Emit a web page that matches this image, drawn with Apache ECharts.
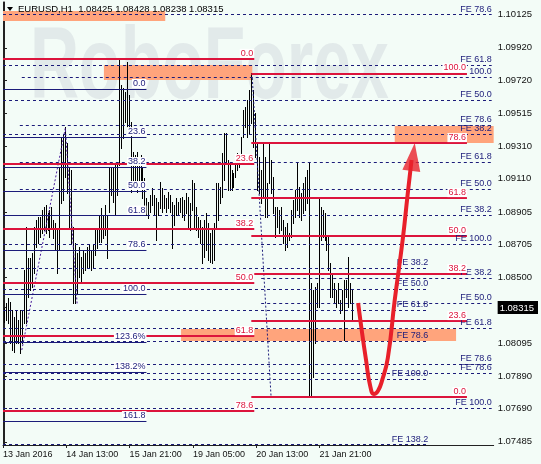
<!DOCTYPE html>
<html><head><meta charset="utf-8">
<script src="https://cdn.jsdelivr.net/npm/echarts@6/dist/echarts.min.js"></script>
<style>html,body{margin:0;padding:0;background:#f3fcf7}#c{width:541px;height:464px}</style>
</head><body><div id="c"></div>
<script>
// ---- data (H1 bars, index 0 = first bar) ----
const header = 'EURUSD,H1  1.08425 1.08428 1.08238 1.08315';
const highs = [1.08312,1.08342,1.08373,1.08349,1.08299,1.08256,1.08299,1.08237,1.08299,1.08299,
1.08546,1.08812,1.08621,1.08621,1.08651,1.08812,1.08855,1.08874,1.08874,1.08917,
1.08936,1.08948,1.08899,1.08917,1.08936,1.08855,1.08837,1.08794,1.09183,1.09368,
1.09381,1.09430,1.09331,1.09177,1.09164,1.08812,1.08713,1.08651,1.08689,1.08627,
1.08670,1.08651,1.08689,1.08701,1.08670,1.08701,1.08806,1.08806,1.08886,1.08930,
1.08886,1.08948,1.08886,1.09177,1.09177,1.09177,1.09195,1.09214,1.09850,1.09690,
1.09671,1.09646,1.09832,1.09628,1.09461,1.09276,1.09257,1.09276,1.09214,1.09257,
1.09177,1.09115,1.08991,1.08967,1.09010,1.09053,1.09010,1.08991,1.08967,1.09090,
1.09053,1.09010,1.08991,1.09028,1.09010,1.08967,1.08948,1.08991,1.08967,1.08991,
1.08998,1.08979,1.09022,1.08998,1.08960,1.09103,1.09084,1.08936,1.08874,1.08855,
1.08812,1.08855,1.08899,1.08837,1.08775,1.08794,1.08837,1.09084,1.09084,1.09059,
1.09269,1.09393,1.09393,1.09226,1.09208,1.09164,1.09146,1.09226,1.09269,1.09226,
1.09368,1.09535,1.09554,1.09597,1.09659,1.09764,1.09659,1.09517,1.09331,1.09245,
1.09164,1.09331,1.09245,1.09084,1.09331,1.09226,1.09121,1.08936,1.08936,1.08917,
1.08936,1.08855,1.08812,1.08837,1.08775,1.08917,1.08979,1.09041,1.09208,1.09059,
1.09022,1.09084,1.09121,1.09164,1.09208,1.08466,1.08423,1.08441,1.08466,1.08998,
1.08936,1.08917,1.08899,1.08750,1.08750,1.08590,1.08528,1.08466,1.08423,1.08466,
1.08361,1.08423,1.08485,1.08485,1.08627,1.08466,1.08428];
const lows = [1.08225,1.08237,1.08219,1.08095,1.08052,1.08040,1.08095,1.08095,1.08033,1.08095,
1.08219,1.08219,1.08380,1.08423,1.08441,1.08528,1.08689,1.08713,1.08750,1.08775,
1.08794,1.08775,1.08794,1.08750,1.08812,1.08744,1.08670,1.08528,1.08670,1.08960,
1.08979,1.09121,1.09022,1.08812,1.08713,1.08342,1.08342,1.08404,1.08503,1.08466,
1.08528,1.08546,1.08565,1.08565,1.08546,1.08559,1.08639,1.08682,1.08719,1.08719,
1.08744,1.08763,1.08621,1.08905,1.09010,1.08967,1.08886,1.09010,1.09195,1.09300,
1.09362,1.09461,1.09399,1.09424,1.09028,1.09053,1.09072,1.09028,1.09090,1.09053,
1.08991,1.08930,1.08886,1.08868,1.08905,1.08948,1.08886,1.08732,1.08886,1.08930,
1.08905,1.08930,1.08905,1.08930,1.08905,1.08682,1.08824,1.08886,1.08886,1.08905,
1.08874,1.08855,1.08899,1.08812,1.08794,1.08917,1.08812,1.08794,1.08750,1.08713,
1.08590,1.08627,1.08670,1.08608,1.08596,1.08590,1.08608,1.08812,1.08855,1.08960,
1.08998,1.09103,1.09208,1.09041,1.09041,1.09041,1.09059,1.09121,1.09164,1.09183,
1.09226,1.09368,1.09430,1.09368,1.09393,1.09455,1.09307,1.09245,1.09041,1.09022,
1.08960,1.08998,1.08874,1.08874,1.09084,1.09022,1.08899,1.08750,1.08812,1.08775,
1.08794,1.08713,1.08670,1.08689,1.08732,1.08750,1.08837,1.08874,1.08917,1.08874,
1.08855,1.08899,1.08917,1.08960,1.07762,1.07774,1.07885,1.08095,1.08318,1.08318,
1.08732,1.08750,1.08732,1.08670,1.08546,1.08380,1.08380,1.08342,1.08318,1.08342,
1.08281,1.08299,1.08114,1.08380,1.08318,1.08342,1.08238];

const timeLabels = ['13 Jan 2016','14 Jan 13:00','15 Jan 21:00','19 Jan 05:00','20 Jan 13:00','21 Jan 21:00'];
const timeLabelBars = [0,32,64,96,128,160];
const priceTicks = [1.10125,1.09920,1.09720,1.09515,1.09310,1.09110,1.08905,1.08705,1.08500,1.08095,1.07890,1.07690,1.07485];
const lastPrice = 1.08315;
const totalBars = 248;

// Fibonacci retracement (red, left)
const redALabels = ['0.0','23.6','38.2','50.0','61.8','78.6'];
const redALevels = [1.09852,1.09202,1.08800,1.08466,1.08138,1.07675];
const redASpan = [-0.5,126.5];
// Fibonacci retracement (red, right)
const redBLabels = ['100.0','78.6','61.8','50.0','38.2','23.6','0.0'];
const redBLevels = [1.09762,1.09331,1.08991,1.08757,1.08522,1.08231,1.07762];
const redBSpan = [125,234];
// Fibonacci retracement (navy)
const navyLabels = ['0.0','23.6','38.2','50.0','61.8','78.6','100.0','123.6%','138.2%','161.8'];
const navyLevels = [1.09665,1.09368,1.09183,1.09035,1.08883,1.08670,1.08398,1.08101,1.07916,1.07613];
const navySpan = [-0.5,72];
// Fibonacci expansion levels (dashed, right labels)
const feRLabels = ['FE 78.6','FE 61.8','100.0','FE 50.0','FE 78.6','FE 38.2','FE 61.8','FE 50.0','FE 38.2','FE 100.0','FE 38.2','FE 50.0','FE 61.8','FE 78.6','FE 78.6','FE 100.0'];
const feRLevels = [1.10125,1.09813,1.09739,1.09597,1.09443,1.09387,1.09214,1.09047,1.08886,1.08707,1.08497,1.08342,1.08188,1.07965,1.07910,1.07694];
const feRStart = [-0.5,-0.5,9,-0.5,8,-0.5,8,8,-0.5,-0.5,130,130,-0.5,-0.5,-0.5,-0.5];
const feREnd = 246.5;
// Fibonacci expansion levels (dashed, middle labels)
const feMLabels = ['FE 38.2','FE 50.0','FE 61.8','FE 78.6','FE 100.0','FE 138.2'];
const feMLevels = [1.08559,1.08429,1.08299,1.08108,1.07873,1.07467];
const feMEnd = 214.5;
// shaded zones [x0, x1, priceTop, priceBottom]
const zones = [[-0.5,81.5,1.10147,1.10085],[50.5,125.5,1.09813,1.09721],[197.5,247.5,1.09436,1.09331],[89.5,228.5,1.08182,1.08108]];
// dotted expansion trend lines
const trendA = [[9,1.08052],[31,1.09424],[37,1.08330]];
const trendB = [[125.5,1.09733],[135,1.07762]];
// forecast path
const forecast = [[179,1.08342],[181,1.08157],[183,1.07990],[185,1.07836],[187,1.07780],[189,1.07799],[191,1.07860],[194,1.08003],[197.5,1.08361],[201.5,1.08732],[204,1.09010],[206,1.09226]];
const arrowHead = [206.75,1.09245];

// ---- chart ----
const NAVY = '#1c1c7a', RED = '#dc143c', FONT = '"Liberation Sans", Arial, sans-serif';
function lvl(prices, labels, x0, x1, lineStyle, labelStyle) {
  return prices.map((p, k) => [
    {coord:[Array.isArray(x0)?x0[k]:x0, p], lineStyle: lineStyle,
     label: Object.assign({show: !!labels[k], formatter: labels[k] || ' ', position:'insideEndTop', distance:[0,1], fontSize:9, fontFamily:FONT}, labelStyle)},
    {coord:[Array.isArray(x1)?x1[k]:x1, p]}
  ]);
}
const mlBase = {silent:true, symbol:['none','none'], animation:false};

const chart = echarts.init(document.getElementById('c'), null, {renderer:'canvas'});
chart.setOption({
  animation:false,
  backgroundColor:'#f3fcf7',
  grid:{left:3, right:42, top:2, bottom:19},
  xAxis:{type:'value', min:-0.5, max:totalBars-0.5,
    splitLine:{show:false},
    axisLine:{show:true, onZero:false, lineStyle:{color:'#222', width:1}},
    axisTick:{show:true, length:3, lineStyle:{color:'#222'}, customValues: timeLabelBars.map(b=>b-0.5)},
    axisLabel:{show:true, customValues: timeLabelBars.map(b=>b-0.5), align:'left', margin:5,
      fontSize:9, fontFamily:FONT, color:'#111',
      formatter: v => { const k = timeLabelBars.findIndex(b => Math.abs(b-0.5-v) < 0.01); return k>=0 ? timeLabels[k] : ''; }}
  },
  yAxis:[{type:'value', position:'right', min:1.07465, max:1.10203, scale:true,
    splitLine:{show:false},
    axisLine:{show:true, lineStyle:{color:'#222'}},
    axisTick:{show:true, length:3, lineStyle:{color:'#222'}, customValues: priceTicks.concat([lastPrice])},
    axisLabel:{show:true, customValues: priceTicks.concat([lastPrice]), margin:4, fontSize:9.5, fontFamily:FONT, color:'#111',
      formatter: v => Math.abs(v-lastPrice)<1e-7 ? '{c|'+lastPrice.toFixed(5)+'}' : v.toFixed(5),
      rich:{c:{backgroundColor:'#000', color:'#fff', fontSize:9.5, fontFamily:FONT, padding:[2,4,1,2]}}}
  },{type:'value', position:'left', min:1.07465, max:1.10203,
    splitLine:{show:false}, axisLine:{show:true, lineStyle:{color:'#222'}}, axisTick:{show:false}, axisLabel:{show:false}}],
  graphic:[
    {type:'text', x:30, y:70, z:-10, scaleX:0.68, scaleY:1.02, silent:true,
      style:{text:'RoboForex', font:'bold 100px "Liberation Sans", Arial', fill:'#e2eaea', verticalAlign:'middle'}},
    {type:'polygon', z:100, shape:{points:[[7,7],[13,7],[10,11]]}, style:{fill:'#000'}},
    {type:'text', x:18, y:4, z:100, style:{text:header, font:'9.5px "Liberation Sans", Arial', fill:'#000'}}
  ],
  series:[
    {type:'line', data:[], z:1, silent:true,
      markArea:{silent:true, animation:false, itemStyle:{color:'#ffa47c', opacity:1},
        data: zones.map(z => [{coord:[z[0], z[2]]},{coord:[z[1], z[3]]}])}},
    {type:'custom', z:2, silent:true,
      data: highs.map((h,i)=>[i,h,lows[i]]),
      encode:{x:0, y:[1,2]},
      renderItem:(params, api) => {
        const a = api.coord([api.value(0), api.value(1)]);
        const b = api.coord([api.value(0), api.value(2)]);
        const x = Math.round(a[0]) + 0.5;
        return {type:'line', shape:{x1:x, y1:Math.round(a[1]), x2:x, y2:Math.round(b[1])+1}, style:{stroke:'#000', lineWidth:1}};
      }},
    {type:'line', data:[], z:3, markLine:Object.assign({}, mlBase, {
      data: lvl(feRLevels, feRLabels, feRStart, feREnd, {color:NAVY, width:1, type:[3,3]}, {color:NAVY})
        .concat(lvl(feMLevels, feMLabels, -0.5, feMEnd, {color:NAVY, width:1, type:[3,3]}, {color:NAVY}))})},
    {type:'line', data:trendA, z:3, symbol:'none', silent:true, lineStyle:{color:'#4a1b9c', width:1, type:[2,2]}},
    {type:'line', data:trendB, z:3, symbol:'none', silent:true, lineStyle:{color:'#1c1c7a', width:1, type:[2,2]}},
    {type:'line', data:[], z:4, markLine:Object.assign({}, mlBase, {
      data: lvl(navyLevels, navyLabels, navySpan[0], navySpan[1], {color:NAVY, width:1, type:'solid'}, {color:NAVY, backgroundColor:'#fff', padding:[0,1]})})},
    {type:'line', data:[], z:5, markLine:Object.assign({}, mlBase, {
      data: lvl(redALevels, redALabels, redASpan[0], redASpan[1], {color:RED, width:2, type:'solid'}, {color:RED, backgroundColor:'#fff', padding:[0,1]})
        .concat(lvl(redBLevels, redBLabels, redBSpan[0], redBSpan[1], {color:RED, width:2, type:'solid'}, {color:RED, backgroundColor:'#fff', padding:[0,1]}))})},
    {type:'line', data:forecast, z:10, symbol:'none', smooth:0.5, silent:true, lineStyle:{color:'#e8202a', width:4}},
    {type:'scatter', data:[arrowHead], z:10, symbol:'triangle', symbolSize:[18,28], symbolRotate:-7, silent:true, itemStyle:{color:'#e8202a'}}
  ]
});
</script></body></html>
